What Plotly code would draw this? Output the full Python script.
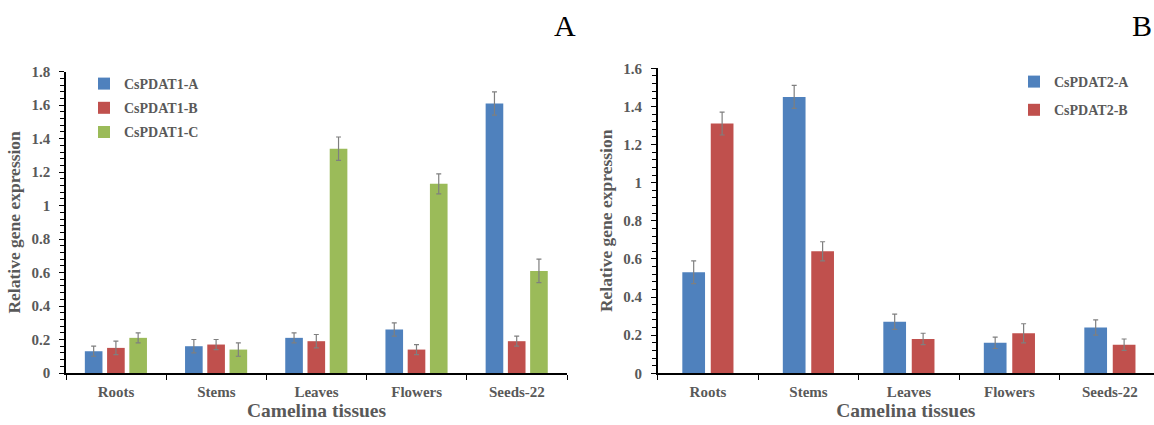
import plotly.graph_objects as go

# ---------------- data ----------------
tissues = ["Roots", "Stems", "Leaves", "Flowers", "Seeds-22"]

pdat1_names = ["CsPDAT1-A", "CsPDAT1-B", "CsPDAT1-C"]
pdat1_A = [0.13, 0.16, 0.21, 0.26, 1.61]
pdat1_B = [0.15, 0.17, 0.19, 0.14, 0.19]
pdat1_C = [0.21, 0.14, 1.34, 1.13, 0.61]
pdat1_A_err = [0.03, 0.04, 0.03, 0.04, 0.07]
pdat1_B_err = [0.04, 0.03, 0.04, 0.03, 0.03]
pdat1_C_err = [0.03, 0.04, 0.07, 0.06, 0.07]

pdat2_names = ["CsPDAT2-A", "CsPDAT2-B"]
pdat2_A = [0.53, 1.45, 0.27, 0.16, 0.24]
pdat2_B = [1.31, 0.64, 0.18, 0.21, 0.15]
pdat2_A_err = [0.06, 0.06, 0.04, 0.03, 0.04]
pdat2_B_err = [0.06, 0.05, 0.03, 0.05, 0.03]

left_yticks = [0, 0.2, 0.4, 0.6, 0.8, 1, 1.2, 1.4, 1.6, 1.8]
right_yticks = [0, 0.2, 0.4, 0.6, 0.8, 1, 1.2, 1.4, 1.6]

# ---------------- style ----------------
W, H = 1154, 425
colors3 = ["#4F81BD", "#C0504D", "#9BBB59"]
colors2 = ["#4F81BD", "#C0504D"]
txt = "#595959"
serif = "Liberation Serif"
err_col = "#7F7F7F"

fig = go.Figure()

left_vals = [pdat1_A, pdat1_B, pdat1_C]
left_errs = [pdat1_A_err, pdat1_B_err, pdat1_C_err]
left_offsets = [-0.312, -0.090, 0.132]
for i, name in enumerate(pdat1_names):
    fig.add_trace(go.Bar(
        x=tissues, y=left_vals[i], name=name,
        marker=dict(color=colors3[i], line=dict(width=0)),
        width=0.176, offset=left_offsets[i],
        error_y=dict(type="data", array=left_errs[i], visible=True,
                     color=err_col, thickness=1.2, width=2.5),
        xaxis="x", yaxis="y", legend="legend", legendgroup=name,
    ))

right_vals = [pdat2_A, pdat2_B]
right_errs = [pdat2_A_err, pdat2_B_err]
right_offsets = [-0.255, 0.028]
for i, name in enumerate(pdat2_names):
    fig.add_trace(go.Bar(
        x=tissues, y=right_vals[i], name=name,
        marker=dict(color=colors2[i], line=dict(width=0)),
        width=0.226, offset=right_offsets[i],
        error_y=dict(type="data", array=right_errs[i], visible=True,
                     color=err_col, thickness=1.2, width=2.5),
        xaxis="x2", yaxis="y2", legend="legend2", legendgroup=name,
    ))

tickfont = dict(family=serif, size=15, color=txt, weight="bold")
xtitlefont = dict(family=serif, size=19.5, color=txt, weight="bold")
ytitlefont = dict(family=serif, size=17.5, color=txt, weight="bold")
legfont = dict(family=serif, size=14, color=txt, weight="bold")

def px_x(p):
    return p / W

def px_y(p):
    return 1 - p / H

xcommon = dict(
    type="category", showline=True, linecolor="black", linewidth=1.5,
    ticks="outside", ticklen=5, tickcolor="black", tickwidth=1.3,
    tickson="boundaries", showgrid=False, zeroline=False, automargin=False,
    tickfont=tickfont, ticklabelstandoff=4,
    title=dict(text="Camelina tissues", font=xtitlefont, standoff=4),
)
ycommon = dict(
    showline=True, linecolor="black", linewidth=1.5,
    ticks="outside", ticklen=5, tickcolor="black", tickwidth=1.3,
    showgrid=False, zeroline=False, tickfont=tickfont, ticklabelstandoff=6,
    automargin=False,
    minor=dict(dtick=0.04, ticks="outside", ticklen=4, tickcolor="black", tickwidth=1),
    title=dict(text="Relative gene expression", font=ytitlefont, standoff=6),
)

fig.update_layout(
    width=W, height=H,
    margin=dict(l=0, r=0, t=0, b=0, autoexpand=False),
    paper_bgcolor="white", plot_bgcolor="white",
    barmode="overlay",
    xaxis=dict(xcommon, domain=[px_x(66), px_x(567)], range=[-0.5, 4.5], anchor="y"),
    yaxis=dict(ycommon, domain=[px_y(373), px_y(71.7)], range=[0, 1.8],
               tickvals=left_yticks, anchor="x"),
    xaxis2=dict(xcommon, domain=[px_x(657.7), 1.0],
                range=[-0.5, -0.5 + (W - 657.7) / 100.5], anchor="y2"),
    yaxis2=dict(ycommon, domain=[px_y(373.3), px_y(68.3)], range=[0, 1.6],
                tickvals=right_yticks, anchor="x2"),
    legend=dict(x=px_x(84), y=px_y(68), xanchor="left", yanchor="top",
                font=legfont, bgcolor="rgba(0,0,0,0)", tracegroupgap=3,
                itemclick=False),
    legend2=dict(x=px_x(1014), y=px_y(66), xanchor="left", yanchor="top",
                 font=legfont, bgcolor="rgba(0,0,0,0)", tracegroupgap=7,
                 itemclick=False),
    showlegend=True,
    annotations=[
        dict(text="A", x=px_x(565), y=px_y(25), xref="paper", yref="paper",
             xanchor="center", yanchor="middle", showarrow=False,
             font=dict(family=serif, size=30, color="black")),
        dict(text="B", x=px_x(1142), y=px_y(25), xref="paper", yref="paper",
             xanchor="center", yanchor="middle", showarrow=False,
             font=dict(family=serif, size=30, color="black")),
    ],
)

fig.write_html("out.html", config={"displayModeBar": False},
               post_script="document.body.style.margin='0px';")
